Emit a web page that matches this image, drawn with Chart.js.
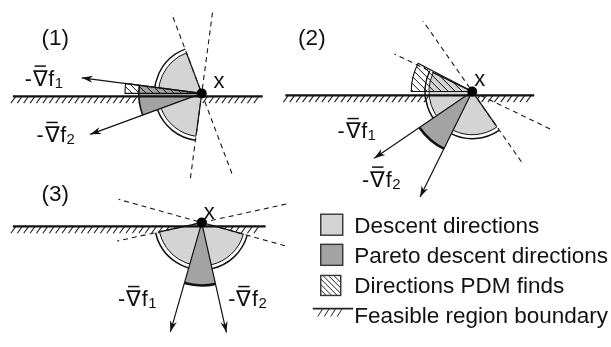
<!DOCTYPE html>
<html>
<head>
<meta charset="utf-8">
<script src="https://cdn.jsdelivr.net/npm/chart.js@4.4.1/dist/chart.umd.min.js"></script>
<style>
html, body { margin: 0; padding: 0; background: #fff; }
#wrap { width: 611px; height: 347px; position: relative; }
</style>
</head>
<body>
<div id="wrap"><canvas id="graph-diagram"></canvas></div>
<script>
// values (angles in degrees, counter-clockwise from +x)
const panelLabels = ["(1)", "(2)", "(3)"];
const grad1Angle = [172.5, 214.6, 254.2];   // direction of -∇f1
const grad2Angle = [200.4, 244.0, 282.5];   // direction of -∇f2
const grad1Length = [123, 121, 117];
const grad2Length = [121, 121, 116];
const pdmFrom = [172.5, 152.5, null];       // directions PDM finds
const pdmTo = [180, 180, null];
const legendLabels = ["Descent directions", "Pareto descent directions", "Directions PDM finds", "Feasible region boundary"];

// layout, in plot units (y up)
const W = 611, H = 347;
const FONT = "'Liberation Sans', Arial, Helvetica, sans-serif";
const origin = [[200, 256], [475, 258], [200, 123]];
const boundaryY = [253, 254, 119];
const boundaryX = [[8, 262], [285, 538], [8, 265]];
const descentR = 44, outerArcR = 48, dashLen = 88;
const paretoR = [64, 65, 64];
const paretoArcWidth = [1.6, 2.6, 2.6];
const pdmR = [78, 62, 0];
const LIGHT = "#d4d4d4", DARK = "#a3a3a3";
const D = Math.PI / 180;

function polar(i, deg, r) {
    return { x: origin[i][0] + r * Math.cos(deg * D), y: origin[i][1] + r * Math.sin(deg * D) };
}

// datasets: boundaries, dashed perpendiculars, gradient arrows, point x
const datasets = [];
for (let i = 0; i < 3; i++) {
    datasets.push({
        data: [{ x: boundaryX[i][0], y: boundaryY[i] }, { x: boundaryX[i][1], y: boundaryY[i] }],
        borderColor: "#111", borderWidth: 2.3, order: 2
    });
    [grad1Angle[i], grad2Angle[i]].forEach(a => {
        datasets.push({
            data: [polar(i, a + 90, dashLen), polar(i, a - 90, dashLen)],
            borderColor: "#1a1a1a", borderWidth: 1.1, borderDash: [5, 4], order: 3
        });
    });
    datasets.push({
        data: [{ x: origin[i][0], y: origin[i][1] }, polar(i, grad1Angle[i], grad1Length[i])],
        borderColor: "#111", borderWidth: 1.2, order: 1
    });
    datasets.push({
        data: [{ x: origin[i][0], y: origin[i][1] }, polar(i, grad2Angle[i], grad2Length[i])],
        borderColor: "#111", borderWidth: 1.2, order: 1
    });
}
datasets.forEach(d => { d.showLine = true; d.pointRadius = 0; d.fill = false; });
datasets.push({
    data: origin.map(o => ({ x: o[0], y: o[1] })),
    showLine: false, pointRadius: 5, pointBackgroundColor: "#000", pointBorderWidth: 0, order: 0
});

function sector(ctx, cx, cy, r, a0, a1) {
    ctx.beginPath();
    ctx.moveTo(cx, cy);
    ctx.arc(cx, cy, r, -a0 * D, -a1 * D, true);
    ctx.closePath();
}

function hatch(ctx, x0, y0, x1, y1, step) {
    ctx.beginPath();
    const h = y1 - y0;
    for (let x = x0 - h; x <= x1; x += step) {
        ctx.moveTo(x, y0);
        ctx.lineTo(x + h, y1);
    }
    ctx.stroke();
}

function arrowHead(ctx, tx, ty, ang) {
    const L = 11, w = 3.6;
    const ux = Math.cos(ang), uy = Math.sin(ang);
    const bx = tx - ux * L, by = ty - uy * L;
    ctx.beginPath();
    ctx.moveTo(tx, ty);
    ctx.lineTo(bx - uy * w, by + ux * w);
    ctx.lineTo(tx - ux * L * 0.7, ty - uy * L * 0.7);
    ctx.lineTo(bx + uy * w, by - ux * w);
    ctx.closePath();
    ctx.fill();
}

function gradLabel(ctx, x, y, n) {
    ctx.font = "21.5px " + FONT;
    ctx.fillText("-", x, y);
    let cx = x + ctx.measureText("-").width + 1;
    ctx.fillText("∇", cx, y);
    const w = ctx.measureText("∇").width;
    ctx.beginPath();
    ctx.moveTo(cx + w * 0.12, y - 19.5);
    ctx.lineTo(cx + w * 0.88, y - 19.5);
    ctx.lineWidth = 1.5;
    ctx.stroke();
    cx += w + 0.5;
    ctx.fillText("f", cx, y);
    cx += ctx.measureText("f").width + 0.5;
    ctx.font = "15px " + FONT;
    ctx.fillText(String(n), cx, y + 2);
}

const gradLabelPos = [[[20, 264], [32, 206]], [[338, 210], [363, 160]], [[115, 37], [227, 37]]];
const xLabelPos = [[212, 262], [477, 264], [202, 127]];
const panelLabelPos = [[37, 306], [298, 306], [37, 145]];
const legendBase = [112, 81, 50, 20];

const diagramPlugin = {
    id: "diagram",
    beforeDatasetsDraw(chart) {
        const ctx = chart.ctx, xs = chart.scales.x, ys = chart.scales.y;
        const P = (x, y) => [xs.getPixelForValue(x), ys.getPixelForValue(y)];
        const R = r => xs.getPixelForValue(r) - xs.getPixelForValue(0);
        ctx.save();
        ctx.lineCap = "butt";

        // hatching under each boundary
        ctx.strokeStyle = "#222";
        ctx.lineWidth = 1.1;
        for (let i = 0; i < 3; i++) {
            ctx.beginPath();
            for (let x = boundaryX[i][0] + 3; x <= boundaryX[i][1] - 2; x += 6.5) {
                const [ax, ay] = P(x, boundaryY[i]);
                const [bx, by] = P(x - 5, boundaryY[i] - 7);
                ctx.moveTo(ax, ay);
                ctx.lineTo(bx, by);
            }
            ctx.stroke();
        }

        for (let i = 0; i < 3; i++) {
            const [cx, cy] = P(origin[i][0], origin[i][1]);
            const lo = Math.min(grad1Angle[i], grad2Angle[i]);
            const hi = Math.max(grad1Angle[i], grad2Angle[i]);
            const dFrom = hi - 90, dTo = lo + 90;

            if (pdmFrom[i] !== null) {
                sector(ctx, cx, cy, R(pdmR[i]), pdmFrom[i], pdmTo[i]);
                ctx.fillStyle = "#fff";
                ctx.fill();
            }

            // descent directions
            sector(ctx, cx, cy, R(descentR), dFrom, dTo);
            ctx.fillStyle = LIGHT;
            ctx.fill();
            ctx.strokeStyle = "#111";
            ctx.lineWidth = 1;
            ctx.beginPath();
            ctx.arc(cx, cy, R(descentR), -dFrom * D, -dTo * D, true);
            ctx.stroke();
            ctx.lineWidth = 1.5;
            ctx.beginPath();
            ctx.arc(cx, cy, R(outerArcR), -dFrom * D, -dTo * D, true);
            ctx.stroke();
            ctx.lineWidth = 1.2;
            [dFrom, dTo].forEach(a => {
                const [ex, ey] = P(polar(i, a, descentR).x, polar(i, a, descentR).y);
                ctx.beginPath();
                ctx.moveTo(cx, cy);
                ctx.lineTo(ex, ey);
                ctx.stroke();
            });

            // Pareto descent directions
            sector(ctx, cx, cy, R(paretoR[i]), lo, hi);
            ctx.fillStyle = DARK;
            ctx.fill();
            ctx.lineWidth = paretoArcWidth[i];
            ctx.beginPath();
            ctx.arc(cx, cy, R(paretoR[i]), -lo * D, -hi * D, true);
            ctx.stroke();

            // directions PDM finds
            if (pdmFrom[i] !== null) {
                const r = R(pdmR[i]);
                ctx.save();
                sector(ctx, cx, cy, r, pdmFrom[i], pdmTo[i]);
                ctx.clip();
                ctx.lineWidth = 1;
                hatch(ctx, cx - r, cy - r, cx + r, cy + r, 7);
                ctx.restore();
                sector(ctx, cx, cy, r, pdmFrom[i], pdmTo[i]);
                ctx.lineWidth = 1.1;
                ctx.stroke();
            }
        }
        ctx.restore();
    },
    afterDatasetsDraw(chart) {
        const ctx = chart.ctx, xs = chart.scales.x, ys = chart.scales.y;
        const P = (x, y) => [xs.getPixelForValue(x), ys.getPixelForValue(y)];
        ctx.save();
        ctx.fillStyle = "#111";
        ctx.strokeStyle = "#111";

        for (let i = 0; i < 3; i++) {
            [[grad1Angle[i], grad1Length[i]], [grad2Angle[i], grad2Length[i]]].forEach(([a, len]) => {
                const t = polar(i, a, len);
                const [tx, ty] = P(t.x, t.y);
                arrowHead(ctx, tx, ty, -a * D);
            });
            ctx.textAlign = "left";
            ctx.textBaseline = "alphabetic";
            gradLabelPos[i].forEach((p, k) => {
                const [lx, ly] = P(p[0], p[1]);
                gradLabel(ctx, lx, ly, k + 1);
            });
            ctx.font = "22px " + FONT;
            let [px, py] = P(xLabelPos[i][0], xLabelPos[i][1]);
            ctx.fillText("x", px, py);
            ctx.font = "22.5px " + FONT;
            [px, py] = P(panelLabelPos[i][0], panelLabelPos[i][1]);
            ctx.fillText(panelLabels[i], px, py);
        }

        // legend
        const [bx] = P(321, 0);
        const [tx] = P(355, 0);
        legendLabels.forEach((label, k) => {
            const [, by] = P(0, legendBase[k]);
            ctx.lineWidth = 1.4;
            ctx.strokeStyle = "#333";
            if (k < 2) {
                ctx.fillStyle = k === 0 ? LIGHT : DARK;
                ctx.fillRect(bx, by - 19, 22, 21);
                ctx.strokeRect(bx, by - 19, 22, 21);
            } else if (k === 2) {
                ctx.fillStyle = "#fff";
                ctx.fillRect(bx, by - 18, 20, 20);
                ctx.save();
                ctx.beginPath();
                ctx.rect(bx, by - 18, 20, 20);
                ctx.clip();
                ctx.lineWidth = 1;
                ctx.strokeStyle = "#222";
                hatch(ctx, bx, by - 18, bx + 20, by + 2, 5.5);
                ctx.restore();
                ctx.strokeRect(bx, by - 18, 20, 20);
            } else {
                const y0 = by - 14;
                ctx.strokeStyle = "#222";
                ctx.lineWidth = 1.6;
                ctx.beginPath();
                ctx.moveTo(bx - 8, y0);
                ctx.lineTo(tx - 1, y0);
                ctx.stroke();
                ctx.lineWidth = 1;
                ctx.beginPath();
                for (let x = bx - 3; x <= tx - 12; x += 6.5) {
                    ctx.moveTo(x + 5, y0);
                    ctx.lineTo(x, y0 + 8);
                }
                ctx.stroke();
            }
            ctx.fillStyle = "#111";
            ctx.font = "22.5px " + FONT;
            ctx.fillText(label, tx, by);
        });
        ctx.restore();
    }
};

new Chart(document.getElementById("graph-diagram").getContext("2d"), {
    type: "scatter",
    data: { datasets: datasets },
    options: {
        responsive: true,
        maintainAspectRatio: false,
        animation: false,
        events: [],
        layout: { padding: 0 },
        elements: { line: { tension: 0, borderCapStyle: "butt" } },
        scales: {
            x: { type: "linear", min: 0, max: W, display: false },
            y: { type: "linear", min: 0, max: H, display: false }
        },
        plugins: { legend: { display: false }, tooltip: { enabled: false } }
    },
    plugins: [diagramPlugin]
});
</script>
</body>
</html>
